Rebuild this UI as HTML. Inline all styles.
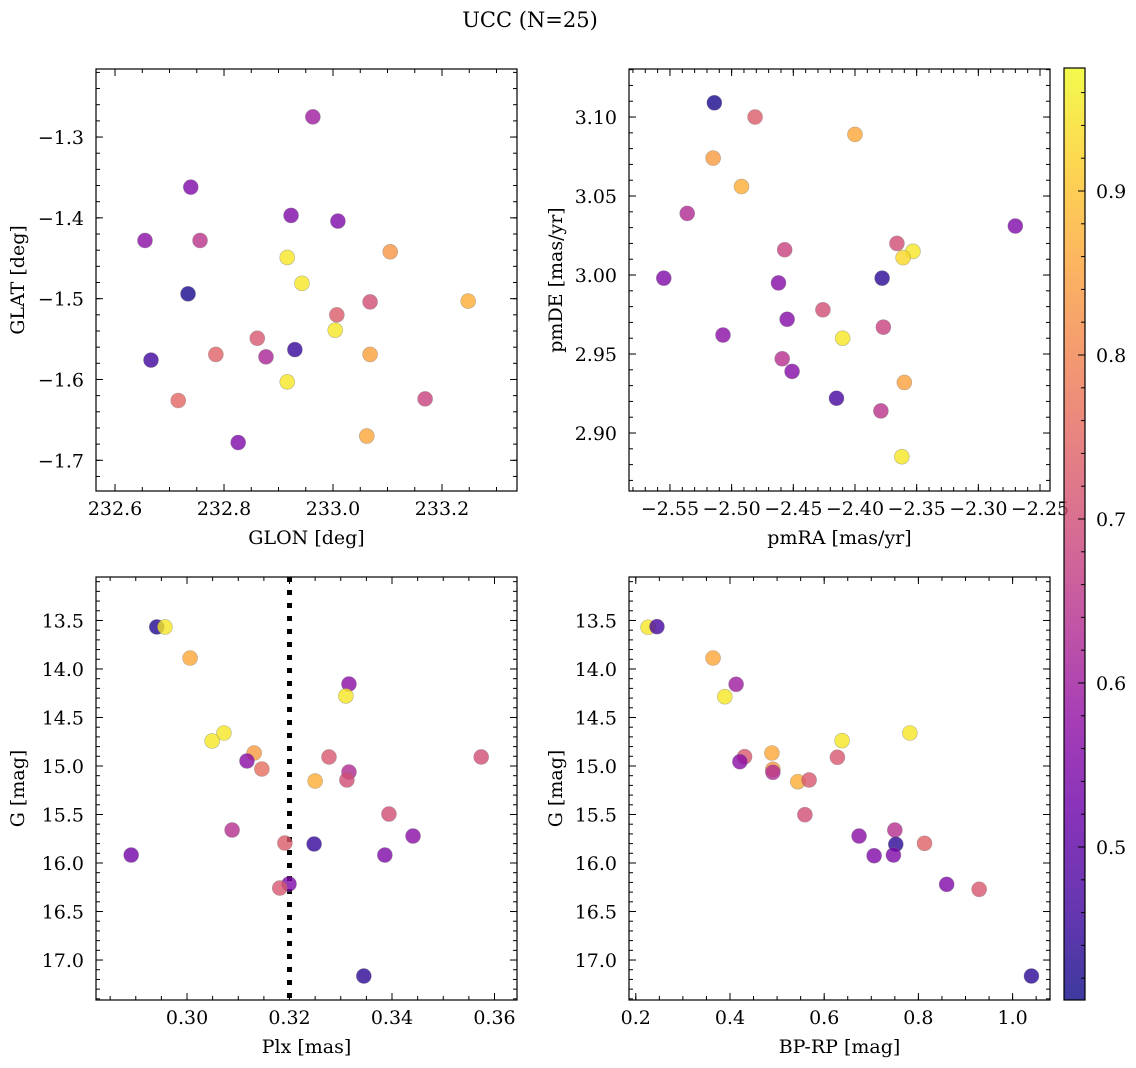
<!DOCTYPE html>
<html><head><meta charset="utf-8"><style>
html,body{margin:0;padding:0;background:#fff;}
svg{display:block;font-family:"DejaVu Serif","Liberation Serif",serif;}
</style></head><body>
<svg id="fig" width="1136" height="1068" viewBox="0 0 1136 1068" xmlns="http://www.w3.org/2000/svg">
<text x="530" y="27" font-size="21" text-anchor="middle">UCC (N=25)</text>
</svg>
<script>
// ---- data ----
const glon=[232.963,232.739,232.655,232.756,232.923,233.009,233.105,232.916,232.943,232.734,233.248,233.068,233.007,233.004,232.861,232.930,232.785,233.068,232.877,232.666,232.916,232.716,233.169,233.062,232.826];
const glat=[-1.275,-1.362,-1.428,-1.428,-1.397,-1.404,-1.442,-1.449,-1.481,-1.494,-1.503,-1.504,-1.520,-1.539,-1.549,-1.563,-1.569,-1.569,-1.572,-1.576,-1.603,-1.626,-1.624,-1.670,-1.678];
const c1=[0.60,0.55,0.57,0.65,0.55,0.55,0.83,0.95,0.95,0.42,0.87,0.70,0.73,0.95,0.72,0.45,0.74,0.85,0.62,0.46,0.95,0.75,0.68,0.86,0.55];
const pmra=[-2.514,-2.481,-2.400,-2.515,-2.492,-2.536,-2.270,-2.366,-2.457,-2.353,-2.361,-2.555,-2.378,-2.462,-2.426,-2.455,-2.377,-2.507,-2.410,-2.459,-2.451,-2.360,-2.415,-2.379,-2.362];
const pmde=[3.109,3.100,3.089,3.074,3.056,3.039,3.031,3.020,3.016,3.015,3.011,2.998,2.998,2.995,2.978,2.972,2.967,2.962,2.960,2.947,2.939,2.932,2.922,2.914,2.885];
const c2=[0.42,0.73,0.86,0.84,0.87,0.63,0.55,0.70,0.68,0.95,0.93,0.55,0.44,0.56,0.70,0.56,0.68,0.57,0.95,0.64,0.56,0.85,0.47,0.65,0.95];
const plx=[0.2941,0.2957,0.3006,0.3316,0.3310,0.3072,0.3049,0.3131,0.3277,0.3574,0.3117,0.3316,0.3146,0.3312,0.3250,0.3394,0.3088,0.3441,0.3191,0.3248,0.2891,0.3386,0.3199,0.3181,0.3345];
const gmag3=[13.567,13.567,13.887,14.155,14.278,14.660,14.742,14.866,14.907,14.907,14.948,15.062,15.031,15.144,15.155,15.495,15.660,15.722,15.794,15.804,15.918,15.918,16.216,16.258,17.165];
const c3=[0.43,0.95,0.86,0.57,0.95,0.95,0.95,0.84,0.72,0.70,0.57,0.63,0.76,0.70,0.87,0.70,0.64,0.57,0.73,0.45,0.53,0.55,0.55,0.72,0.44];
const bprp=[0.226,0.245,0.364,0.413,0.389,0.782,0.638,0.628,0.489,0.431,0.421,0.491,0.491,0.544,0.568,0.559,0.750,0.674,0.813,0.752,0.706,0.747,0.860,0.929,1.040];
const gmag4=[13.570,13.564,13.887,14.158,14.286,14.660,14.739,14.910,14.866,14.904,14.956,15.034,15.065,15.162,15.144,15.502,15.660,15.722,15.797,15.807,15.925,15.918,16.220,16.271,17.165];
const c4=[0.95,0.47,0.86,0.60,0.95,0.95,0.95,0.72,0.86,0.72,0.57,0.84,0.63,0.87,0.72,0.70,0.64,0.57,0.74,0.44,0.55,0.55,0.55,0.72,0.44];
const plxLine=[0.32];
const cbTicks=[0.5,0.6,0.7,0.8,0.9];
const vmin=0.4067, vmax=0.975;

const NS="http://www.w3.org/2000/svg";
const svg=document.getElementById('fig');
function el(tag,attrs,parent){const e=document.createElementNS(NS,tag);for(const k in attrs)e.setAttribute(k,attrs[k]);(parent||svg).appendChild(e);return e;}
const plasma=[[13,8,135],[65,4,157],[106,0,168],[143,13,164],[177,42,144],[204,71,120],[225,100,98],[242,132,75],[252,166,54],[252,206,37],[240,249,33]];
function cmap(t){t=Math.max(0,Math.min(1,t));const f=t*10,i=Math.min(9,Math.floor(f)),r=f-i;const a=plasma[i],b=plasma[i+1];return `rgb(${Math.round(a[0]+(b[0]-a[0])*r)},${Math.round(a[1]+(b[1]-a[1])*r)},${Math.round(a[2]+(b[2]-a[2])*r)})`;}
function fmt(v,d){return (v<0?'−':'')+Math.abs(v).toFixed(d);}
function rng(a,b,s){const o=[];for(let v=a;v<=b+s*1e-6;v+=s)o.push(+v.toFixed(6));return o;}
const FS=19;

function panel(p){
  const g=el('g',{});
  
  
  const sx=v=>p.x0+(v-p.xmin)/(p.xmax-p.xmin)*p.w;
  const sy=p.yinv? (v=>p.y0+(v-p.ymin)/(p.ymax-p.ymin)*p.h) : (v=>p.y0+p.h-(v-p.ymin)/(p.ymax-p.ymin)*p.h);
  if(p.vline){p.vline.forEach(v=>{const l=el('line',{x1:sx(v),x2:sx(v),y1:p.y0,y2:p.y0+p.h,stroke:'#000','stroke-width':5,'stroke-dasharray':'5 8'},g);
    });}
  const pts=el('g',{},g);
  
  for(let i=0;i<p.xs.length;i++){
    const c=el('circle',{cx:sx(p.xs[i]),cy:sy(p.ys[i]),r:7.5,fill:cmap((p.cs[i]-vmin)/(vmax-vmin)),'fill-opacity':0.8,stroke:'#777','stroke-opacity':0.5,'stroke-width':0.6},pts);
    
    
  }
  const tk=el('g',{stroke:'#000','stroke-width':1},g);
  p.xminor.forEach(v=>{const x=sx(v);if(x<p.x0||x>p.x0+p.w)return;el('line',{x1:x,x2:x,y1:p.y0+p.h,y2:p.y0+p.h-4},tk);el('line',{x1:x,x2:x,y1:p.y0,y2:p.y0+4},tk);});
  p.yminor.forEach(v=>{const y=sy(v);if(y<p.y0||y>p.y0+p.h)return;el('line',{x1:p.x0,x2:p.x0+4,y1:y,y2:y},tk);el('line',{x1:p.x0+p.w,x2:p.x0+p.w-4,y1:y,y2:y},tk);});
  p.xmajor.forEach(v=>{const x=sx(v);if(x<p.x0-0.5||x>p.x0+p.w+0.5)return;el('line',{x1:x,x2:x,y1:p.y0+p.h,y2:p.y0+p.h-7},tk);el('line',{x1:x,x2:x,y1:p.y0,y2:p.y0+7},tk);
    const t=el('text',{x:x,y:p.y0+p.h+24,'font-size':FS,'text-anchor':'middle'},g);t.textContent=fmt(v,p.xd);
    });
  p.ymajor.forEach(v=>{const y=sy(v);if(y<p.y0-0.5||y>p.y0+p.h+0.5)return;el('line',{x1:p.x0,x2:p.x0+7,y1:y,y2:y},tk);el('line',{x1:p.x0+p.w,x2:p.x0+p.w-7,y1:y,y2:y},tk);
    const t=el('text',{x:p.x0-12,y:y+7,'font-size':FS,'text-anchor':'end'},g);t.textContent=fmt(v,p.yd);
    });
  const fr=el('rect',{x:p.x0,y:p.y0,width:p.w,height:p.h,fill:'none',stroke:'#000','stroke-width':1.2},g);
  
  const xt=el('text',{x:p.x0+p.w/2,y:p.y0+p.h+53,'font-size':FS,'text-anchor':'middle'},g);xt.textContent=p.xlabel;
  
  const yx=p.ylx, yy=p.y0+p.h/2;
  const yt=el('text',{x:yx,y:yy,'font-size':FS,'text-anchor':'middle',transform:`rotate(-90 ${yx} ${yy})`},g);yt.textContent=p.ylabel;
  
}

panel({name:'glon-glat-panel',x0:96,y0:69,w:421,h:422,xmin:232.5651,xmax:233.3376,ymin:-1.738,ymax:-1.2158,
  xs:glon,ys:glat,cs:c1,xmajor:rng(232.6,233.4,0.2),xminor:rng(232.55,233.45,0.05),ymajor:rng(-1.7,-1.3,0.1),yminor:rng(-1.74,-1.2,0.02),
  xd:1,yd:1,xlabel:'GLON [deg]',ylabel:'GLAT [deg]',ylx:24});
panel({name:'pmra-pmde-panel',x0:629,y0:69,w:421,h:422,xmin:-2.5832,xmax:-2.2419,ymin:2.8633,ymax:3.1304,
  xs:pmra,ys:pmde,cs:c2,xmajor:rng(-2.55,-2.25,0.05),xminor:rng(-2.58,-2.24,0.01),ymajor:rng(2.90,3.10,0.05),yminor:rng(2.87,3.13,0.01),
  xd:2,yd:2,xlabel:'pmRA [mas/yr]',ylabel:'pmDE [mas/yr]',ylx:562});
panel({name:'plx-g-panel',x0:96,y0:577,w:421,h:423,xmin:0.28224,xmax:0.36439,ymin:13.052,ymax:17.412,yinv:true,vline:plxLine,
  xs:plx,ys:gmag3,cs:c3,xmajor:rng(0.30,0.36,0.02),xminor:rng(0.285,0.365,0.005),ymajor:rng(13.5,17.0,0.5),yminor:rng(13.1,17.4,0.1),
  xd:2,yd:1,xlabel:'Plx [mas]',ylabel:'G [mag]',ylx:24});
panel({name:'color-magnitude-panel',x0:629,y0:577,w:421,h:423,xmin:0.1856,xmax:1.0794,ymin:13.052,ymax:17.412,yinv:true,
  xs:bprp,ys:gmag4,cs:c4,xmajor:rng(0.2,1.0,0.2),xminor:rng(0.2,1.05,0.05),ymajor:rng(13.5,17.0,0.5),yminor:rng(13.1,17.4,0.1),
  xd:1,yd:1,xlabel:'BP-RP [mag]',ylabel:'G [mag]',ylx:562});

(function(){
  const x0=1064,y0=68,w=21,h=932;
  const defs=el('defs',{});
  const lg=el('linearGradient',{id:'plasmaGrad',x1:0,y1:1,x2:0,y2:0},defs);
  for(let i=0;i<=10;i++){el('stop',{offset:i/10,'stop-color':cmap(i/10)},lg);}
  const g=el('g',{});
  
  
  el('rect',{x:x0,y:y0,width:w,height:h,fill:'url(#plasmaGrad)','fill-opacity':0.8},g);
  const sy=v=>y0+h-(v-vmin)/(vmax-vmin)*h;
  rng(0.42,0.96,0.02).forEach(v=>{el('line',{x1:x0+w,x2:x0+w-4,y1:sy(v),y2:sy(v),stroke:'#000','stroke-width':1},g);});
  cbTicks.forEach(v=>{el('line',{x1:x0+w,x2:x0+w-7,y1:sy(v),y2:sy(v),stroke:'#000','stroke-width':1},g);
    const t=el('text',{x:x0+w+11,y:sy(v)+7,'font-size':FS},g);t.textContent=v.toFixed(1);
    });
  el('rect',{x:x0,y:y0,width:w,height:h,fill:'none',stroke:'#000','stroke-width':1.2},g);
})();
</script>
</body></html>
